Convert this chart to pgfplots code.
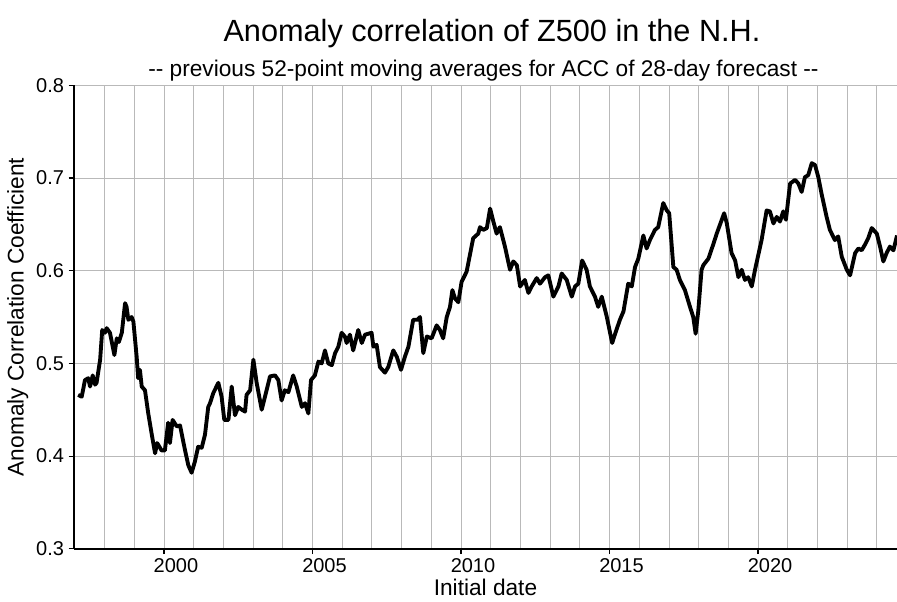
\documentclass[border=0pt]{standalone}
\usepackage{pgfplots}
\pgfplotsset{compat=1.18}
\usepackage{fontspec}
\setmainfont{Liberation Sans}
\begin{document}
\begin{tikzpicture}[x=1pt,y=1pt]
\useasboundingbox (0,0) rectangle (672.75,450.75);
\begin{axis}[
  at={(55.5pt,39.2pt)}, anchor=south west,
  scale only axis, width=617.25pt, height=347.55pt,
  xmin=1996.97, xmax=2024.68, ymin=0.3, ymax=0.8,
  xtick={2000,2005,2010,2015,2020},
  minor xtick={1997,1998,1999,2001,2002,2003,2004,2006,2007,2008,2009,2011,2012,2013,2014,2016,2017,2018,2019,2021,2022,2023,2024},
  ytick={0.3,0.4,0.5,0.6,0.7,0.8},
  /pgf/number format/assume math mode=true,
  /pgf/number format/set thousands separator={},
  yticklabel style={/pgf/number format/fixed, /pgf/number format/precision=1, /pgf/number format/fixed zerofill},
  xticklabel style={xshift=9pt},
  tick label style={font=\fontsize{15}{17}\selectfont, black},
  grid=both,
  major grid style={gray!55, line width=0.6pt},
  minor grid style={gray!55, line width=0.6pt},
  axis x line*=bottom, axis y line*=left,
  axis line style={black, line width=1.3pt, -},
  x tick style={black, line width=0.8pt}, minor x tick style={draw=none},
  y tick style={black, line width=0.8pt},
  tick align=outside, major tick length=4pt,
  xlabel={Initial date}, ylabel={Anomaly Correlation Coefficient},
  label style={font=\fontsize{17}{20}\selectfont},
  xlabel style={yshift=2.5pt},
  ylabel style={yshift=-1pt},
  clip=true,
]
\addplot[black, line width=2.9pt, line join=round] table {
1997.11 0.466
1997.23 0.464
1997.34 0.482
1997.45 0.484
1997.51 0.475
1997.60 0.487
1997.68 0.477
1997.73 0.479
1997.85 0.504
1997.92 0.536
1998.01 0.533
1998.07 0.538
1998.18 0.533
1998.33 0.509
1998.41 0.527
1998.48 0.523
1998.58 0.533
1998.69 0.565
1998.74 0.561
1998.80 0.547
1998.91 0.550
1998.97 0.545
1999.08 0.507
1999.13 0.484
1999.19 0.493
1999.25 0.475
1999.36 0.471
1999.47 0.446
1999.59 0.423
1999.70 0.403
1999.77 0.414
1999.92 0.406
2000.03 0.406
2000.14 0.436
2000.20 0.414
2000.29 0.439
2000.43 0.432
2000.54 0.433
2000.71 0.406
2000.82 0.390
2000.93 0.382
2001.04 0.394
2001.15 0.410
2001.27 0.409
2001.38 0.423
2001.49 0.453
2001.55 0.457
2001.66 0.468
2001.83 0.479
2001.94 0.464
2002.03 0.439
2002.17 0.439
2002.28 0.475
2002.39 0.444
2002.50 0.453
2002.62 0.450
2002.73 0.448
2002.78 0.466
2002.90 0.471
2003.01 0.504
2003.12 0.479
2003.29 0.450
2003.40 0.464
2003.57 0.486
2003.74 0.487
2003.85 0.482
2003.96 0.460
2004.07 0.471
2004.19 0.469
2004.35 0.487
2004.47 0.475
2004.64 0.453
2004.75 0.457
2004.86 0.446
2004.95 0.482
2005.08 0.487
2005.20 0.502
2005.31 0.500
2005.42 0.514
2005.53 0.500
2005.65 0.498
2005.76 0.511
2005.87 0.518
2005.98 0.533
2006.09 0.529
2006.15 0.522
2006.26 0.531
2006.37 0.514
2006.54 0.536
2006.66 0.522
2006.77 0.531
2006.99 0.533
2007.05 0.518
2007.16 0.520
2007.27 0.496
2007.44 0.490
2007.55 0.496
2007.72 0.514
2007.84 0.507
2007.98 0.493
2008.11 0.507
2008.23 0.518
2008.39 0.547
2008.53 0.547
2008.62 0.550
2008.73 0.511
2008.85 0.529
2009.01 0.527
2009.18 0.541
2009.29 0.536
2009.40 0.527
2009.52 0.550
2009.63 0.561
2009.71 0.579
2009.80 0.570
2009.91 0.566
2010.02 0.588
2010.19 0.599
2010.30 0.617
2010.41 0.635
2010.58 0.640
2010.64 0.647
2010.75 0.644
2010.87 0.646
2010.98 0.667
2011.09 0.653
2011.20 0.640
2011.31 0.647
2011.48 0.626
2011.65 0.601
2011.76 0.610
2011.88 0.606
2011.99 0.583
2012.15 0.590
2012.27 0.576
2012.38 0.583
2012.55 0.592
2012.66 0.586
2012.83 0.593
2012.94 0.595
2013.11 0.572
2013.28 0.583
2013.39 0.597
2013.56 0.590
2013.73 0.572
2013.84 0.583
2013.95 0.586
2014.08 0.611
2014.23 0.601
2014.34 0.583
2014.51 0.572
2014.62 0.561
2014.74 0.572
2014.91 0.550
2015.09 0.522
2015.19 0.532
2015.35 0.547
2015.47 0.556
2015.63 0.586
2015.75 0.583
2015.86 0.604
2015.97 0.613
2016.14 0.638
2016.25 0.624
2016.36 0.633
2016.53 0.644
2016.64 0.647
2016.81 0.673
2016.93 0.665
2017.01 0.662
2017.15 0.604
2017.26 0.601
2017.37 0.590
2017.54 0.579
2017.71 0.561
2017.82 0.550
2017.90 0.532
2017.99 0.557
2018.10 0.601
2018.16 0.606
2018.33 0.613
2018.50 0.629
2018.61 0.640
2018.78 0.655
2018.86 0.662
2018.95 0.651
2019.11 0.619
2019.23 0.611
2019.34 0.593
2019.45 0.601
2019.56 0.590
2019.67 0.593
2019.79 0.583
2019.90 0.601
2020.12 0.633
2020.29 0.665
2020.40 0.664
2020.52 0.651
2020.63 0.658
2020.74 0.653
2020.85 0.664
2020.94 0.655
2021.08 0.694
2021.25 0.698
2021.36 0.694
2021.47 0.685
2021.58 0.701
2021.69 0.703
2021.81 0.716
2021.92 0.714
2022.03 0.701
2022.14 0.683
2022.31 0.658
2022.42 0.644
2022.59 0.633
2022.70 0.637
2022.82 0.615
2022.99 0.601
2023.10 0.595
2023.27 0.619
2023.38 0.624
2023.49 0.622
2023.60 0.628
2023.71 0.635
2023.83 0.646
2024.00 0.640
2024.11 0.626
2024.22 0.610
2024.33 0.619
2024.44 0.626
2024.56 0.622
2024.68 0.638
};
\end{axis}
\node[anchor=base, font=\fontsize{23}{26}\selectfont] at (369,419.5) {Anomaly correlation of Z500 in the N.H.};
\node[anchor=base, font=\fontsize{17}{20}\selectfont] at (362.6,393) {-{}- previous 52-point moving averages for ACC of 28-day forecast -{}-};
\end{tikzpicture}
\end{document}
